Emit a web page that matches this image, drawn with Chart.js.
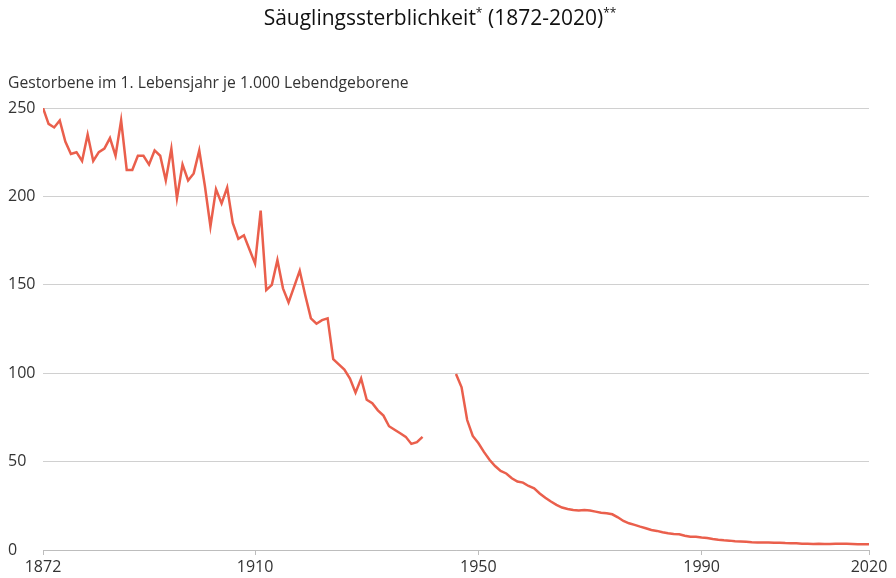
<!DOCTYPE html>
<html>
<head>
<meta charset="utf-8">
<script src="https://cdn.jsdelivr.net/npm/chart.js@4/dist/chart.umd.min.js"></script>
<style>
  html, body { margin: 0; padding: 0; background: #fff; }
  #wrap { width: 896px; height: 578px; }
</style>
</head>
<body>
<div id="wrap"><canvas id="chart"></canvas></div>
<script>
// Kaiserreich bis Kriegsbeginn (1872-1940), Werte je 1.000 Lebendgeborene
const yearsPart1 = [];
for (let y = 1872; y <= 1940; y++) yearsPart1.push(y);
const valuesPart1 = [
  250, 241, 239, 243, 231, 224, 225, 220, 235, 220,
  225, 227, 233, 223, 243, 215, 215, 223, 223, 218,
  226, 223, 209, 227, 199, 218, 209, 213, 226, 206,
  183, 204, 196, 205, 185, 176, 178, 170, 162, 192,
  147, 150, 164, 148, 140, 149, 158, 144, 131, 128,
  130, 131, 108, 105, 102, 97, 89, 97, 85, 83,
  79, 76, 70, 68, 66, 64, 60, 61, 64
];

// Nachkriegszeit (1946-2020)
const yearsPart2 = [];
for (let y = 1946; y <= 2020; y++) yearsPart2.push(y);
const valuesPart2 = [
  99.5, 92, 73.5, 64.5, 60.5, 55.5, 51, 47.5, 44.7, 43.3,
  40.6, 38.7, 38.1, 36.2, 34.9, 32, 29.6, 27.4, 25.5, 24,
  23.2, 22.6, 22.3, 22.6, 22.3, 21.7, 21.1, 20.8, 20.2, 18.5,
  16.4, 15.1, 14.2, 13.2, 12.3, 11.3, 10.8, 10, 9.5, 9.1,
  8.9, 8.1, 7.5, 7.5, 7.1, 6.8, 6.2, 5.8, 5.5, 5.3,
  5.0, 4.8, 4.6, 4.4, 4.3, 4.3, 4.2, 4.1, 4.1, 3.9,
  3.8, 3.8, 3.6, 3.5, 3.4, 3.5, 3.4, 3.4, 3.5, 3.5,
  3.5, 3.4, 3.3, 3.3, 3.2
];

const xTicks = [1872, 1910, 1950, 1990, 2020];
const yTicks = [0, 50, 100, 150, 200, 250];

const titleMain = 'Säuglingssterblichkeit';
const titleSup1 = '*';
const titleRest = ' (1872-2020)';
const titleSup2 = '**';
const yCaption = 'Gestorbene im 1. Lebensjahr je 1.000 Lebendgeborene';

const lineColor = '#ea5f4c';
const textColor = '#333333';
const fontFamily = '"Open Sans", "Noto Sans", sans-serif';

const seriesData = [];
yearsPart1.forEach((yr, i) => seriesData.push({ x: yr, y: valuesPart1[i] }));
seriesData.push({ x: 1943, y: null });
yearsPart2.forEach((yr, i) => seriesData.push({ x: yr, y: valuesPart2[i] }));

const headerPlugin = {
  id: 'header',
  afterDraw(chart) {
    const ctx = chart.ctx;
    ctx.save();
    ctx.fillStyle = '#111';
    ctx.textBaseline = 'alphabetic';
    const big = '21px ' + fontFamily;
    const small = '12px ' + fontFamily;
    ctx.font = big;
    const w1 = ctx.measureText(titleMain).width;
    const w3 = ctx.measureText(titleRest).width;
    ctx.font = small;
    const w2 = ctx.measureText(titleSup1).width;
    const w4 = ctx.measureText(titleSup2).width;
    let x = 440 - (w1 + w2 + w3 + w4) / 2;
    const base = 25;
    ctx.textAlign = 'left';
    ctx.font = big;
    ctx.fillText(titleMain, x, base); x += w1;
    ctx.font = small;
    ctx.fillText(titleSup1, x, base - 8); x += w2;
    ctx.font = big;
    ctx.fillText(titleRest, x, base); x += w3;
    ctx.font = small;
    ctx.fillText(titleSup2, x, base - 8);

    ctx.fillStyle = textColor;
    ctx.font = '15.7px ' + fontFamily;
    ctx.fillText(yCaption, 8, 88);
    ctx.restore();
  }
};

new Chart(document.getElementById('chart'), {
  type: 'line',
  data: {
    datasets: [{
      data: seriesData,
      borderColor: lineColor,
      borderWidth: 2.5,
      pointRadius: 0,
      tension: 0,
      spanGaps: false,
      fill: false
    }]
  },
  options: {
    responsive: true,
    maintainAspectRatio: false,
    animation: false,
    layout: { padding: { top: 108, left: 8, right: 27, bottom: 0 } },
    plugins: {
      legend: { display: false },
      title: { display: false },
      tooltip: { enabled: false }
    },
    scales: {
      x: {
        type: 'linear',
        min: 1872,
        max: 2020,
        afterBuildTicks(axis) { axis.ticks = xTicks.map(v => ({ value: v })); },
        afterFit(axis) { axis.height = 28; },
        grid: { drawOnChartArea: false, drawTicks: true, tickLength: 5, color: '#bdbdbd' },
        border: { color: '#bdbdbd' },
        ticks: {
          color: textColor,
          padding: 3,
          maxRotation: 0,
          autoSkip: false,
          font: { family: fontFamily, size: 16 },
          callback: v => String(v)
        }
      },
      y: {
        min: 0,
        max: 250,
        afterBuildTicks(axis) { axis.ticks = yTicks.map(v => ({ value: v })); },
        afterFit(axis) { axis.width = 35; },
        grid: { color: '#d0d0d0', drawTicks: false },
        border: { display: false },
        ticks: {
          color: textColor,
          crossAlign: 'far',
          padding: 4,
          font: { family: fontFamily, size: 16 }
        }
      }
    }
  },
  plugins: [headerPlugin]
});
</script>
</body>
</html>
